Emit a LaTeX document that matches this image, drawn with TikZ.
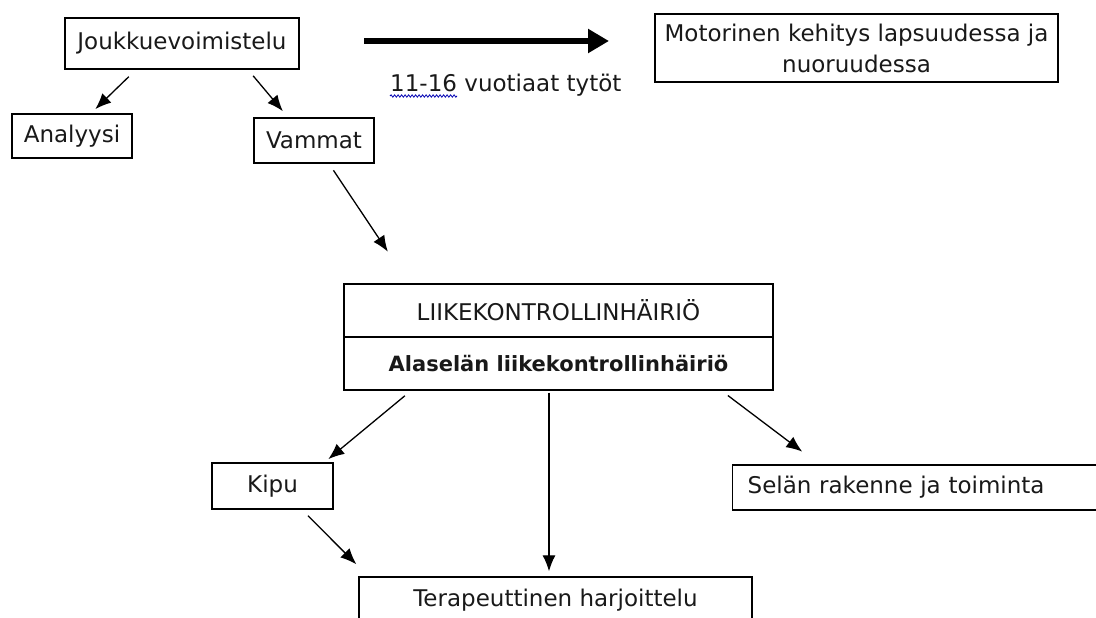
\documentclass[tikz,border=0pt]{standalone}
\usepackage{fontspec}
\setmainfont{DejaVu Sans}
\usetikzlibrary{arrows.meta}
\usetikzlibrary{positioning}
\usetikzlibrary{decorations.pathmorphing}

\begin{document}
\begin{tikzpicture}[x=1pt, y=-1pt,
    box/.style={draw, line width=1.4pt, inner sep=0pt, align=center,
        font=\fontsize{23}{31}\selectfont, text=black!90},
    plain/.style={inner sep=0pt, font=\fontsize{23}{31}\selectfont, text=black!90},
    link/.style={-{Latex[length=16pt, width=13pt]}, line width=1.3pt},
    bigarrow/.style={-{Triangle[length=21pt, width=23pt]}, line width=6.5pt}]

    % Canvas
    \useasboundingbox (0,0) rectangle (1096,618);
    \clip (0,0) rectangle (1096,618);

    % Draw boxes
    \node [box, minimum width=234pt, minimum height=51pt] (jouk) at (182,43.5) {Joukkuevoimistelu};
    \node [box, minimum width=120pt, minimum height=44pt] (analyysi) at (72,136) {Analyysi};
    \node [box, minimum width=120pt, minimum height=45pt] (vammat) at (314,140.5) {Vammat};
    \node [box, minimum width=403pt, minimum height=68pt] (motor) at (856.5,48) {Motorinen kehitys lapsuudessa ja\\nuoruudessa};
    \node [box, minimum width=429pt, minimum height=53pt] (liike) at (558.5,310.5) {LIIKEKONTROLLINHÄIRIÖ};
    \node [box, minimum width=429pt, minimum height=53pt, font=\fontsize{21}{26}\selectfont\bfseries] (liikesub) at (558.5,363.5) {Alaselän liikekontrollinhäiriö};
    \node [box, minimum width=121pt, minimum height=46pt] (kipu) at (272.5,486) {Kipu};
    \node [box, minimum width=393pt, minimum height=46pt] (terap) at (555.5,600) {Terapeuttinen harjoittelu};
    \node [box, anchor=west, align=left, text width=350pt, inner xsep=15pt, minimum height=45pt] (selan) at (732,487.5) {Selän rakenne ja toiminta};

    % Draw age label
    \node [plain, anchor=base west] (agenum) at (390,92) {11-16};
    \node [plain, anchor=base west] (agetxt) at ([xshift=7pt]agenum.base east) {vuotiaat tytöt};
    \draw [blue!70!black, line width=0.8pt, decorate, decoration={snake, amplitude=1.2pt, segment length=3.5pt}]
        ([yshift=-4pt]agenum.base west) -- ([yshift=-4pt]agenum.base east);

    % Draw thick arrow
    \coordinate (bigstart) at (364,41);
    \coordinate (bigend) at (609,41);
    \draw [bigarrow] (bigstart) -- (bigend);

    % Draw arrows
    \draw [link, shorten <=10pt, shorten >=6pt] ([xshift=-46pt]jouk.south) -- ([xshift=19pt]analyysi.north);
    \draw [link, shorten <=8pt, shorten >=8pt] ([xshift=66pt]jouk.south) -- ([xshift=-26pt]vammat.north);
    \draw [link, shorten <=8pt, shorten >=38pt] ([xshift=15pt]vammat.south) -- ([xshift=-149.5pt]liike.north);
    \draw [link, shorten <=8pt, shorten >=5pt] ([xshift=-147.5pt]liikesub.south) -- ([xshift=52pt]kipu.north);
    \draw [link, shorten <=2pt, shorten >=5pt] ([xshift=-9.5pt]liikesub.south) -- ([xshift=-9.5pt]liikesub.south |- terap.north);
    \draw [link, shorten <=8pt, shorten >=21pt] ([xshift=163pt]liikesub.south) -- ([xshift=87pt]selan.north west);
    \draw [link, shorten <=8.5pt, shorten >=17pt] ([xshift=29.5pt]kipu.south) -- ([xshift=10pt]terap.north west);

\end{tikzpicture}
\end{document}
